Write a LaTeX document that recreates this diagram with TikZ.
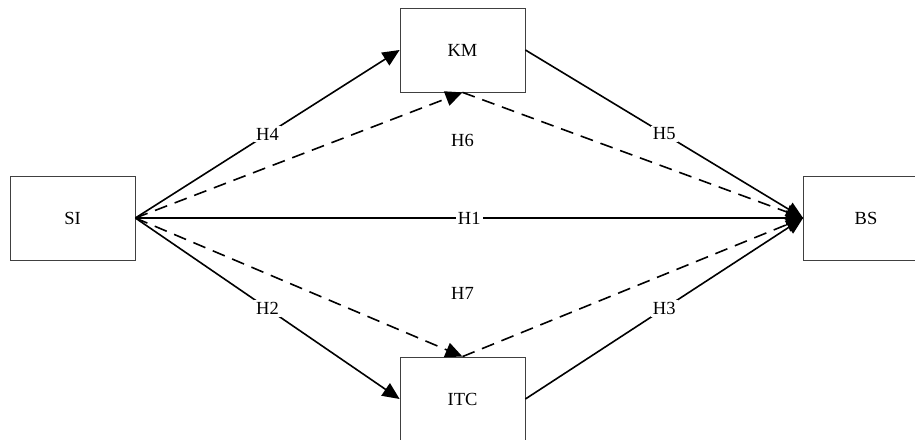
\documentclass[tikz,border=0pt]{standalone}
\usepackage{fontspec}
\setmainfont{Liberation Serif}
\usetikzlibrary{arrows.meta}

\begin{document}
\begin{tikzpicture}[->,>={Triangle[length=17pt,width=15pt]},x=1pt,y=1pt,line width=1.6pt,
  box/.style={draw=black!75,line width=0.8pt,minimum width=125pt,minimum height=84pt,font=\fontsize{18.5}{20}\selectfont},
  hyp/.style={fill=white,inner sep=2pt,font=\fontsize{18.5}{20}\selectfont},
  mediated/.style={dash pattern=on 13pt off 8pt}]
\useasboundingbox (0,0) rectangle (915,439);

\node[box] (SI)  at (72.5,221) {SI};
\node[box] (KM)  at (462.5,389) {KM};
\node[box] (ITC) at (462.5,40)  {ITC};
\node[box] (BS)  at (866,221)   {BS};

% labels of the two indirect paths
\node[hyp] (H6) at (462.5,299) {H6};
\node[hyp] (H7) at (462.5,146) {H7};

\path
(SI.east) edge node[hyp] (h4) {H4} (KM.west)
          edge [mediated] (KM.south)
          edge node[hyp] (h1) {H1} (BS.west)
          edge [mediated] (ITC.north)
          edge node[hyp] (h2) {H2} (ITC.west)
(KM.east) edge node[hyp] (h5) {H5} (BS.west)
(KM.south) edge [mediated] (BS.west)
(ITC.east) edge node[hyp] (h3) {H3} (BS.west)
(ITC.north) edge [mediated] (BS.west)
;
\end{tikzpicture}
\end{document}
